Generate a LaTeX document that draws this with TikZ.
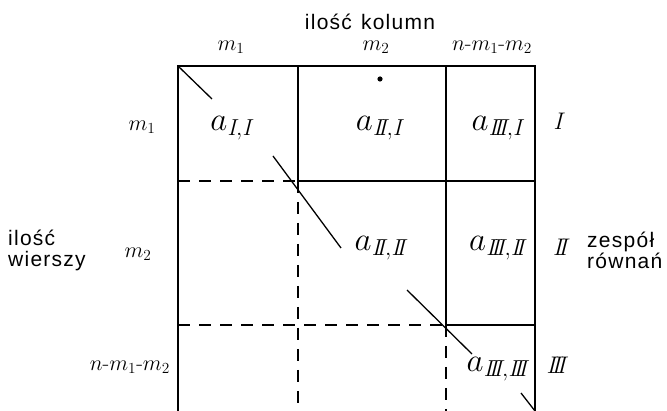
\RequirePackage{fix-cm}
\documentclass[tikz,border=0pt]{standalone}
\usepackage{amsmath}
\usepackage{fontspec}
\setsansfont[LetterSpace=6]{Liberation Sans}
\usetikzlibrary{positioning}

\tikzset{
  blk/.style={line width=1.5pt},
  gap/.style={line width=1.5pt, dash pattern=on 12pt off 9pt},
  diag/.style={line width=1.3pt},
  word/.style={font=\fontsize{21}{21}\selectfont\sffamily, align=left, inner sep=0pt},
  dim/.style={font=\fontsize{22}{24}\selectfont, inner sep=0pt},
  elem/.style={font=\fontsize{33}{35}\selectfont, inner sep=0pt},
  eqn/.style={font=\fontsize{24}{26}\selectfont, inner sep=0pt}
}

\begin{document}
\begin{tikzpicture}[x=1pt, y=-1pt]
\useasboundingbox (0,0) rectangle (667,411);

% corners and grid points of the matrix
\coordinate (tl) at (178,66);
\coordinate (tr) at (535,66);
\coordinate (bl) at (178,411);
\coordinate (br) at (535,411);
\coordinate (c1t) at (298,66);
\coordinate (c2t) at (446,66);
\coordinate (p11) at (298,181);
\coordinate (p22) at (446,325);
\coordinate (r1l) at (178,181);
\coordinate (r1r) at (535,181);
\coordinate (r2l) at (178,325);
\coordinate (r2r) at (535,325);
\coordinate (c1b) at (298,411);
\coordinate (c2b) at (446,411);

% outline and solid block borders
\draw[blk] (bl) -- (tl) -- (tr) -- (br);
\draw[blk] (c1t) -- (p11) -- (r1r);
\draw[blk] (c2t) -- (p22) -- (r2r);

% dashed continuations
\draw[gap] (r1l) -- (p11);
\draw[gap] (r2l) -- (p22);
\draw[gap] (p11) -- (c1b);
\draw[gap] (p22) -- (c2b);

% diagonal pieces
\draw[diag] (tl) -- (212,99);
\draw[diag] (273,156) -- (341,248);
\draw[diag] (407,290) -- (472,354);
\draw[diag] (521,393) -- (br);

\fill (380,79) circle (2.6pt);

% headings
\node[word] (cols) at (370,22) {ilość\hspace{9pt}kolumn};
\node[word, anchor=west] (rows) at (8,250) {ilość\\wierszy};
\node[word, anchor=west] (eqs) at (587,250) {zespół\\równań};

% column widths
\node[dim] (w1) at (231,47) {$m_1$};
\node[dim] (w2) at (376,47) {$m_2$};
\node[dim] (w3) at (492,47) {$n\text{-}m_1\text{-}m_2$};

% row heights
\node[dim] (h1) at (142,127) {$m_1$};
\node[dim] (h2) at (138,254) {$m_2$};
\node[dim, anchor=east] (h3) at (170,367) {$n\text{-}m_1\text{-}m_2$};

% blocks
\node[elem] (a11) at (231,128) {$a_{\mathit{I},\mathit{I}}$};
\node[elem] (a21) at (379,128) {$a_{\mathit{I\!I},\mathit{I}}$};
\node[elem] (a31) at (497,128) {$a_{\mathit{I\!I\!I},\mathit{I}}$};
\node[elem] (a22) at (380,248) {$a_{\mathit{I\!I},\mathit{I\!I}}$};
\node[elem] (a32) at (497,248) {$a_{\mathit{I\!I\!I},\mathit{I\!I}}$};
\node[elem] (a33) at (497,369) {$a_{\mathit{I\!I\!I},\mathit{I\!I\!I}}$};

% equation groups
\node[eqn] (g1) at (558,121) {$\mathit{I}$};
\node[eqn] (g2) at (560,247) {$\mathit{I\!I}$};
\node[eqn] (g3) at (556,365) {$\mathit{I\!I\!I}$};
\end{tikzpicture}
\end{document}
